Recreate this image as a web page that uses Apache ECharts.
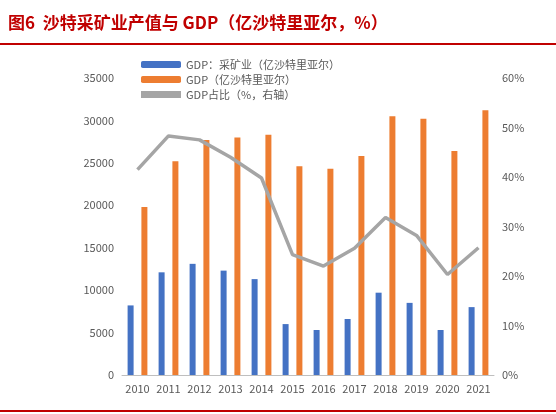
<!DOCTYPE html>
<html><head><meta charset="utf-8">
<script src="https://cdn.jsdelivr.net/npm/echarts@6/dist/echarts.min.js"></script>
<style>body{margin:0;background:#fff}#main{width:556px;height:414px}</style>
</head><body><div id="main"></div>
<script>
var years = ['2010','2011','2012','2013','2014','2015','2016','2017','2018','2019','2020','2021'];
var mining = [8200, 12100, 13100, 12300, 11300, 6000, 5300, 6600, 9700, 8500, 5300, 8000];
var gdp = [19800, 25200, 27700, 28000, 28300, 24600, 24300, 25800, 30500, 30200, 26400, 31200];
var share = [41.5, 48.3, 47.5, 44, 39.8, 24.3, 22, 25.6, 31.8, 28.2, 20.3, 25.7];

var chart = echarts.init(document.getElementById('main'));
var font = '"Noto Sans CJK SC", sans-serif';
chart.setOption({
  animation: false,
  textStyle: {fontFamily: font},
  graphic: [
    {type: 'text', left: 8, top: 14, style: {text: '图6  沙特采矿业产值与 GDP（亿沙特里亚尔，%）', fill: '#c00000', font: 'bold 17px ' + font}},
    {type: 'rect', left: 0, top: 43, shape: {width: 556, height: 2}, style: {fill: '#c00000'}},
    {type: 'rect', left: 0, top: 410, shape: {width: 556, height: 2}, style: {fill: '#c00000'}}
  ],
  legend: {
    orient: 'vertical', left: 136, top: 54, itemGap: 4, itemWidth: 40, itemHeight: 7,
    textStyle: {fontSize: 11, color: '#595959'},
    data: [
      {name: 'GDP：采矿业（亿沙特里亚尔）'},
      {name: 'GDP（亿沙特里亚尔）'},
      {name: 'GDP占比（%，右轴）', icon: 'rect', itemStyle: {color: '#a5a5a5'}}
    ]
  },
  grid: {left: 122, right: 62, top: 78, bottom: 39},
  xAxis: {
    type: 'category', data: years,
    axisLine: {lineStyle: {color: '#bfbfbf'}}, axisTick: {show: false},
    axisLabel: {color: '#595959', fontSize: 11, interval: 0}
  },
  yAxis: [
    {type: 'value', min: 0, max: 35000, interval: 5000, splitLine: {show: false},
     axisLabel: {color: '#595959', fontSize: 11, formatter: function (v) { return String(v); }}},
    {type: 'value', min: 0, max: 60, interval: 10, splitLine: {show: false},
     axisLabel: {color: '#595959', fontSize: 11, formatter: '{value}%'}}
  ],
  series: [
    {name: 'GDP：采矿业（亿沙特里亚尔）', type: 'bar', data: mining, barWidth: 6, barGap: '130%', itemStyle: {color: '#4472c4'}},
    {name: 'GDP（亿沙特里亚尔）', type: 'bar', data: gdp, barWidth: 6, itemStyle: {color: '#ed7d31'}},
    {name: 'GDP占比（%，右轴）', type: 'line', yAxisIndex: 1, data: share, symbol: 'none',
     lineStyle: {color: '#a5a5a5', width: 3.5}, itemStyle: {color: '#a5a5a5'}}
  ]
});
</script></body></html>
